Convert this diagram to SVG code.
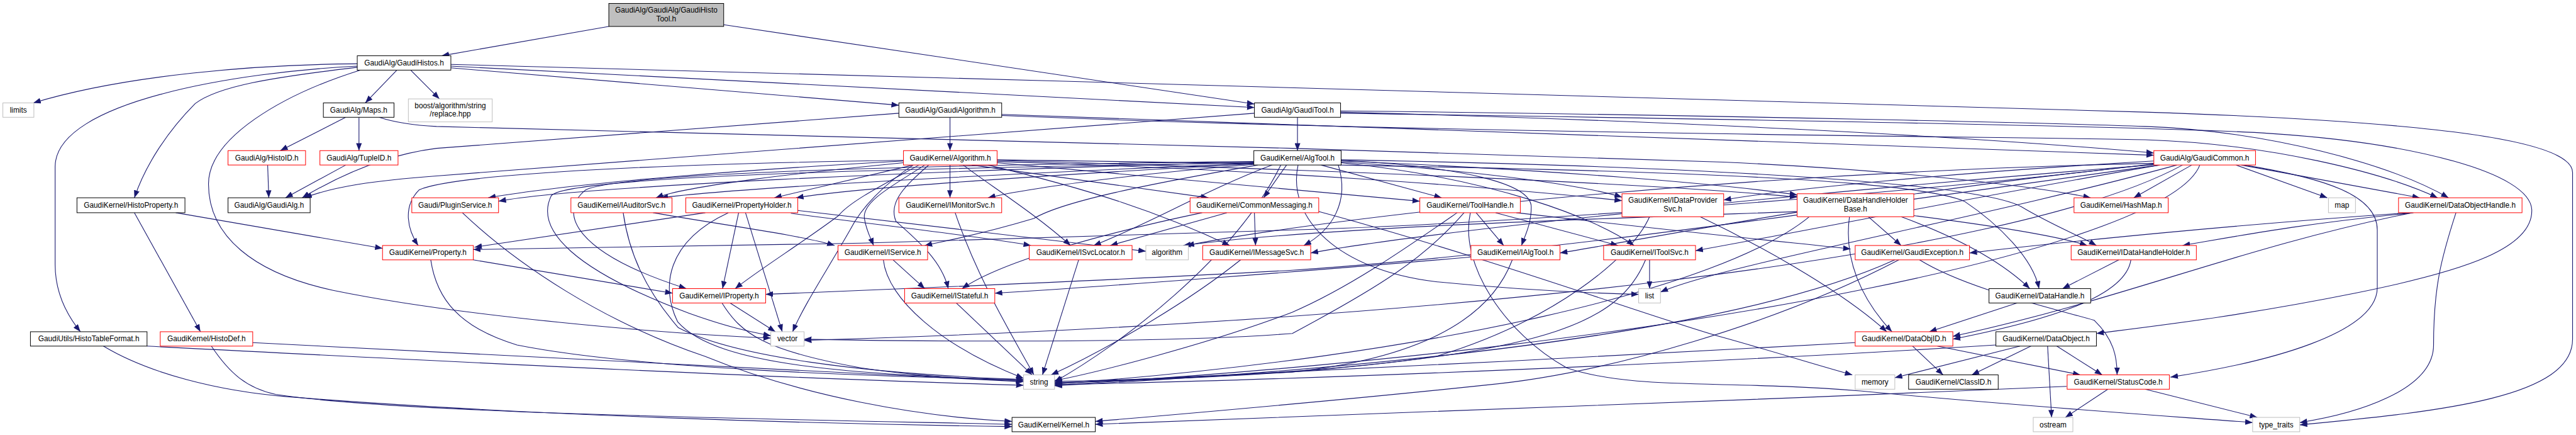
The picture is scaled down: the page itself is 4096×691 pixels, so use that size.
<svg xmlns="http://www.w3.org/2000/svg" width="4096" height="691" viewBox="0 0 4096 691">
<style>
.e{fill:none;stroke:#191970;stroke-width:1.2;marker-end:url(#a)}
.node rect{fill:#fff;stroke-width:1.1}
.r rect{stroke:#ff0000}
.b rect{stroke:#000}
.g rect{stroke:#bfbfbf}
.m rect{fill:#bfbfbf;stroke:#000}
text{font-family:"Liberation Sans",Arial,sans-serif;font-size:13px;text-anchor:middle;fill:#000}
</style>
<defs>
<marker id="a" markerUnits="userSpaceOnUse" markerWidth="13" markerHeight="10" refX="13" refY="5" orient="auto"><path d="M0,0L13,5L0,10z" fill="#191970"/></marker>
</defs>
<rect width="4096" height="691" fill="#fff"/>
<g transform="scale(0.91327)">
<g id="edges">
<path class="e" d="M1060,46 L769,97"/>
<path class="e" d="M1260,43 L2184,181"/>
<path class="e" d="M622,111 C450,112 220,130 58,179"/>
<path class="e" d="M622,115 C420,125 96,175 96,290 L96,460 C96,510 118,550 140,577"/>
<path class="e" d="M622,117 C470,135 380,150 340,180 C290,230 252,290 234,344"/>
<path class="e" d="M627,122 C490,165 363,240 363,320 C363,410 440,475 580,505 C800,550 1150,580 1342,588"/>
<path class="e" d="M691,122 L636,179"/>
<path class="e" d="M715,122 L765,172"/>
<path class="e" d="M785,112 C1800,140 3300,180 3735,195 C4250,212 4479,245 4479,300 L4479,590 C4479,690 4260,715 4004,739"/>
<path class="e" d="M785,115 L2184,187"/>
<path class="e" d="M785,118 L1565,183"/>
<path class="e" d="M602,204 L488,262"/>
<path class="e" d="M625,204 L625,262"/>
<path class="e" d="M660,204 C690,214 720,218 760,220 L2250,258 L3000,282 C3300,295 3550,325 3640,344"/>
<path class="e" d="M466,287 L468,344"/>
<path class="e" d="M602,287 L497,344"/>
<path class="e" d="M1565,197 L760,258 C680,268 600,300 526,344"/>
<path class="e" d="M1654,204 L1654,262"/>
<path class="e" d="M1744,199 C2300,222 3000,238 3750,270"/>
<path class="e" d="M1744,201 C2500,232 3500,238 3735,243 C3950,250 4150,300 4244,344"/>
<path class="e" d="M2184,197 L760,306 C650,314 580,325 530,344"/>
<path class="e" d="M2259,204 L2259,262"/>
<path class="e" d="M2334,195 C2900,210 3400,235 3750,266"/>
<path class="e" d="M2334,193 C3000,200 3600,215 3735,220 C3950,228 4160,285 4263,344"/>
<path class="e" d="M2334,197 C3200,210 3800,222 3950,232 C4200,248 4405,300 4408,365 C4410,430 4300,470 4100,510 C3900,550 3760,566 3650,580"/>
<path class="e" d="M306,370 L666,432"/>
<path class="e" d="M234,370 L349,577"/>
<path class="e" d="M440,596 L1782,664"/>
<path class="e" d="M368,602 C400,650 430,675 480,686 C700,720 1400,730 1762,738"/>
<path class="e" d="M256,602 C800,630 1400,660 1782,670"/>
<path class="e" d="M180,602 C260,650 380,680 500,690 C900,722 1400,737 1762,742"/>
<path class="e" d="M1573,280 C1300,295 1000,318 850,344"/>
<path class="e" d="M1573,283 C1400,300 1200,322 1142,344"/>
<path class="e" d="M1590,287 L1348,344"/>
<path class="e" d="M1654,287 L1654,344"/>
<path class="e" d="M1692,287 L2104,344"/>
<path class="e" d="M1736,283 L2472,350"/>
<path class="e" d="M1736,279 C2300,295 2900,320 3129,343"/>
<path class="e" d="M1573,279 C1200,284 800,300 730,330 C700,360 710,400 728,427"/>
<path class="e" d="M1600,287 C1540,320 1480,350 1460,375 C1400,420 1320,470 1280,502"/>
<path class="e" d="M1590,287 C1540,320 1500,360 1480,400 C1440,470 1400,530 1380,577"/>
<path class="e" d="M1610,287 C1560,320 1500,350 1505,380 C1508,400 1515,412 1521,427"/>
<path class="e" d="M1617,287 C1580,320 1545,350 1560,385 C1600,420 1640,455 1651,502"/>
<path class="e" d="M1677,287 C1720,320 1800,370 1864,427"/>
<path class="e" d="M1720,287 C1900,330 2020,370 2141,427"/>
<path class="e" d="M1736,281 C2200,295 2600,325 2824,349"/>
<path class="e" d="M1736,278 C2600,290 3300,300 3420,350 C3480,390 3540,450 3550,502"/>
<path class="e" d="M2183,282 C1600,297 1000,325 868,350"/>
<path class="e" d="M2183,284 C1800,300 1300,325 1150,344"/>
<path class="e" d="M2183,285 C1900,300 1500,325 1386,344"/>
<path class="e" d="M2183,286 C2000,300 1800,325 1720,344"/>
<path class="e" d="M2240,287 L2200,344"/>
<path class="e" d="M2300,287 L2510,344"/>
<path class="e" d="M2335,282 C2550,295 2750,320 2824,343"/>
<path class="e" d="M2335,280 C2700,295 3000,320 3129,339"/>
<path class="e" d="M2190,287 C2000,320 1850,350 1800,380 C1700,410 1640,420 1610,427"/>
<path class="e" d="M2215,287 C2100,330 2000,390 1904,427"/>
<path class="e" d="M2330,287 C2350,350 2320,400 2270,427"/>
<path class="e" d="M2335,279 C2550,290 2666,320 2666,360 C2666,390 2655,410 2649,427"/>
<path class="e" d="M2335,283 C2600,310 2780,380 2845,427"/>
<path class="e" d="M2260,287 C2240,380 2330,470 2500,490 C2650,505 2780,510 2853,512"/>
<path class="e" d="M2183,283 C1800,290 1000,300 960,340 C930,400 1000,470 1200,545 C1270,570 1310,578 1342,584"/>
<path class="e" d="M2230,287 C2150,450 1950,600 1836,664"/>
<path class="e" d="M2183,281 C1800,285 1100,295 1020,330 C970,370 1000,440 1195,502"/>
<path class="e" d="M2335,278 C3000,290 3450,320 3520,360 C3570,390 3620,410 3650,427"/>
<path class="e" d="M3816,287 L3715,344"/>
<path class="e" d="M3893,287 L4052,344"/>
<path class="e" d="M3902,287 L4213,344"/>
<path class="e" d="M3750,280 C3400,300 3100,330 3001,348"/>
<path class="e" d="M3907,287 C4050,310 4139,340 4139,400 L4139,500 C4139,580 3950,630 3779,656"/>
<path class="e" d="M3830,287 C3780,420 3000,600 1836,670"/>
<path class="e" d="M3800,287 C3500,450 2500,560 1400,592"/>
<path class="e" d="M3750,284 C3000,300 2300,380 2066,427"/>
<path class="e" d="M3760,287 C3450,340 3100,410 2952,436"/>
<path class="e" d="M3755,286 C3200,330 2500,400 2282,440"/>
<path class="e" d="M3760,285 C3300,330 2900,410 2716,440"/>
<path class="e" d="M3750,285 C3300,340 2600,390 2250,400 L1500,423 L824,434"/>
<path class="e" d="M3790,287 C3450,380 3000,460 2891,508"/>
<path class="e" d="M3760,287 C3300,350 2700,440 2250,470 C1900,490 1500,505 1333,512"/>
<path class="e" d="M2561,447 C2300,470 1900,500 1732,510"/>
<path class="e" d="M805,370 C900,460 1050,560 1228,620 C1400,690 1600,725 1762,733"/>
<path class="e" d="M1085,370 C1095,440 1123,503 1181,570 C1276,620 1500,650 1782,660"/>
<path class="e" d="M1137,370 C1250,390 1400,410 1453,427"/>
<path class="e" d="M1228,370 L826,430"/>
<path class="e" d="M1268,370 C1160,420 1150,500 1180,560 C1250,640 1500,650 1782,662"/>
<path class="e" d="M1286,370 L1258,502"/>
<path class="e" d="M1298,370 L1362,577"/>
<path class="e" d="M1389,366 L1995,437"/>
<path class="e" d="M1377,371 C1500,388 1700,410 1795,427"/>
<path class="e" d="M1663,370 C1700,480 1760,580 1800,652"/>
<path class="e" d="M2184,370 L2186,427"/>
<path class="e" d="M2136,370 L1933,427"/>
<path class="e" d="M2296,368 C2600,450 2900,560 3000,587 C3100,615 3180,640 3225,652"/>
<path class="e" d="M2093,370 C1950,400 1750,450 1675,502"/>
<path class="e" d="M2570,370 L2618,427"/>
<path class="e" d="M2604,370 L2817,427"/>
<path class="e" d="M2537,370 C2450,430 2350,500 2250,543 C2100,600 1900,650 1836,662"/>
<path class="e" d="M2549,370 C2480,450 2400,500 2250,580 C2000,600 1500,592 1400,590"/>
<path class="e" d="M2640,370 C2900,400 3100,420 3222,433"/>
<path class="e" d="M2560,370 C2540,460 2620,580 2728,640 C2850,680 3000,660 3239,680 C3500,705 3750,722 3922,735"/>
<path class="e" d="M2872,377 C2840,450 2700,560 2500,620 C2300,650 2000,660 1836,666"/>
<path class="e" d="M2960,377 C3050,420 3200,500 3285,577"/>
<path class="e" d="M3220,377 C3210,450 3240,520 3294,577"/>
<path class="e" d="M3253,377 L3310,427"/>
<path class="e" d="M3310,377 C3400,410 3480,450 3534,502"/>
<path class="e" d="M3332,375 C3450,390 3580,410 3634,427"/>
<path class="e" d="M3129,368 C2800,380 2300,395 2060,427"/>
<path class="e" d="M3150,377 C3000,500 2500,620 1836,668"/>
<path class="e" d="M4202,370 C4000,390 3900,410 3800,427"/>
<path class="e" d="M4195,370 C3900,390 3600,420 3429,440"/>
<path class="e" d="M4200,370 C3900,430 3700,520 3400,585"/>
<path class="e" d="M4276,370 C4250,450 4237,500 4237,600 C4237,680 4100,720 4004,735"/>
<path class="e" d="M3689,452 L3591,502"/>
<path class="e" d="M3710,452 C3700,520 3550,560 3400,590"/>
<path class="e" d="M3342,452 C3420,500 3550,530 3646,557 C3680,590 3686,620 3686,652"/>
<path class="e" d="M3299,452 C3150,520 2800,620 1836,671"/>
<path class="e" d="M3306,452 C3100,560 2800,650 2585,670 C2300,700 2000,725 1907,733"/>
<path class="e" d="M2872,452 L2872,502"/>
<path class="e" d="M2865,452 C2820,560 2700,610 2250,647 C2050,660 1900,665 1836,665"/>
<path class="e" d="M2633,452 C2600,540 2500,620 2250,647 C2000,660 1900,663 1836,663"/>
<path class="e" d="M2160,452 C2050,540 1900,620 1830,652"/>
<path class="e" d="M1878,452 L1815,652"/>
<path class="e" d="M1555,452 L1610,502"/>
<path class="e" d="M1538,452 C1545,520 1640,603 1782,658"/>
<path class="e" d="M1665,527 L1797,652"/>
<path class="e" d="M1271,527 L1350,577"/>
<path class="e" d="M1257,527 C1290,580 1330,610 1500,640 C1600,655 1700,660 1782,662"/>
<path class="e" d="M824,452 L1171,510"/>
<path class="e" d="M750,452 C760,520 800,570 900,600 C1100,640 1500,655 1782,660"/>
<path class="e" d="M3512,527 L3359,577"/>
<path class="e" d="M3330,602 L3383,652"/>
<path class="e" d="M3373,602 L3622,652"/>
<path class="e" d="M3230,596 C2800,620 2200,650 1836,667"/>
<path class="e" d="M3517,602 L3299,657"/>
<path class="e" d="M3536,602 L3433,652"/>
<path class="e" d="M3581,602 L3660,652"/>
<path class="e" d="M3565,602 L3572,726"/>
<path class="e" d="M3475,600 C3000,630 2300,660 1836,669"/>
<path class="e" d="M3670,677 L3596,726"/>
<path class="e" d="M3735,677 L3930,726"/>
<path class="e" d="M3598,672 C3000,698 2300,725 1907,738"/>
</g>
<g id="n0" class="node m"><rect x="1060" y="6" width="200" height="40"/><text x="1160" y="22">GaudiAlg/GaudiAlg/GaudiHisto</text><text x="1160" y="37">Tool.h</text></g>
<g id="n1" class="node b"><rect x="622" y="97" width="163" height="25"/><text x="703.5" y="114">GaudiAlg/GaudiHistos.h</text></g>
<g id="n2" class="node g"><rect x="5" y="179" width="54" height="25"/><text x="32" y="196">limits</text></g>
<g id="n3" class="node b"><rect x="563" y="179" width="123" height="25"/><text x="624.5" y="196">GaudiAlg/Maps.h</text></g>
<g id="n4" class="node g"><rect x="711" y="172" width="146" height="40"/><text x="784" y="188">boost/algorithm/string</text><text x="784" y="203">/replace.hpp</text></g>
<g id="n5" class="node b"><rect x="1565" y="179" width="179" height="25"/><text x="1654.5" y="196">GaudiAlg/GaudiAlgorithm.h</text></g>
<g id="n6" class="node b"><rect x="2184" y="179" width="150" height="25"/><text x="2259" y="196">GaudiAlg/GaudiTool.h</text></g>
<g id="n7" class="node r"><rect x="1573" y="262" width="163" height="25"/><text x="1654.5" y="279">GaudiKernel/Algorithm.h</text></g>
<g id="n8" class="node b"><rect x="2183" y="262" width="152" height="25"/><text x="2259" y="279">GaudiKernel/AlgTool.h</text></g>
<g id="n9" class="node r"><rect x="3750" y="262" width="177" height="25"/><text x="3838.5" y="279">GaudiAlg/GaudiCommon.h</text></g>
<g id="n10" class="node r"><rect x="397" y="262" width="135" height="25"/><text x="464.5" y="279">GaudiAlg/HistoID.h</text></g>
<g id="n11" class="node r"><rect x="557" y="262" width="136" height="25"/><text x="625" y="279">GaudiAlg/TupleID.h</text></g>
<g id="n12" class="node b"><rect x="134" y="344" width="188" height="26"/><text x="228" y="361.5">GaudiKernel/HistoProperty.h</text></g>
<g id="n13" class="node b"><rect x="397" y="344" width="143" height="26"/><text x="468.5" y="361.5">GaudiAlg/GaudiAlg.h</text></g>
<g id="n14" class="node r"><rect x="717" y="344" width="151" height="26"/><text x="792.5" y="361.5">Gaudi/PluginService.h</text></g>
<g id="n15" class="node r"><rect x="994" y="344" width="176" height="26"/><text x="1082" y="361.5">GaudiKernel/IAuditorSvc.h</text></g>
<g id="n16" class="node r"><rect x="1194" y="344" width="195" height="26"/><text x="1291.5" y="361.5">GaudiKernel/PropertyHolder.h</text></g>
<g id="n17" class="node r"><rect x="1565" y="344" width="179" height="26"/><text x="1654.5" y="361.5">GaudiKernel/IMonitorSvc.h</text></g>
<g id="n18" class="node r"><rect x="2072" y="344" width="224" height="26"/><text x="2184" y="361.5">GaudiKernel/CommonMessaging.h</text></g>
<g id="n19" class="node r"><rect x="2472" y="344" width="175" height="26"/><text x="2559.5" y="361.5">GaudiKernel/ToolHandle.h</text></g>
<g id="n20" class="node r"><rect x="2824" y="337" width="177" height="40"/><text x="2912.5" y="353">GaudiKernel/IDataProvider</text><text x="2912.5" y="368">Svc.h</text></g>
<g id="n21" class="node r"><rect x="3129" y="337" width="203" height="40"/><text x="3230.5" y="353">GaudiKernel/DataHandleHolder</text><text x="3230.5" y="368">Base.h</text></g>
<g id="n22" class="node r"><rect x="3611" y="344" width="164" height="26"/><text x="3693" y="361.5">GaudiKernel/HashMap.h</text></g>
<g id="n23" class="node g"><rect x="4054" y="344" width="47" height="26"/><text x="4077.5" y="361.5">map</text></g>
<g id="n24" class="node r"><rect x="4176" y="344" width="215" height="26"/><text x="4283.5" y="361.5">GaudiKernel/DataObjectHandle.h</text></g>
<g id="n25" class="node r"><rect x="666" y="427" width="158" height="25"/><text x="745" y="444">GaudiKernel/Property.h</text></g>
<g id="n26" class="node r"><rect x="1459" y="427" width="156" height="25"/><text x="1537" y="444">GaudiKernel/IService.h</text></g>
<g id="n27" class="node r"><rect x="1792" y="427" width="179" height="25"/><text x="1881.5" y="444">GaudiKernel/ISvcLocator.h</text></g>
<g id="n28" class="node g"><rect x="1995" y="427" width="74" height="25"/><text x="2032" y="444">algorithm</text></g>
<g id="n29" class="node r"><rect x="2094" y="427" width="188" height="25"/><text x="2188" y="444">GaudiKernel/IMessageSvc.h</text></g>
<g id="n30" class="node r"><rect x="2561" y="427" width="155" height="25"/><text x="2638.5" y="444">GaudiKernel/IAlgTool.h</text></g>
<g id="n31" class="node r"><rect x="2792" y="427" width="160" height="25"/><text x="2872" y="444">GaudiKernel/IToolSvc.h</text></g>
<g id="n32" class="node r"><rect x="3230" y="427" width="199" height="25"/><text x="3329.5" y="444">GaudiKernel/GaudiException.h</text></g>
<g id="n33" class="node r"><rect x="3606" y="427" width="218" height="25"/><text x="3715" y="444">GaudiKernel/IDataHandleHolder.h</text></g>
<g id="n34" class="node r"><rect x="1171" y="502" width="162" height="25"/><text x="1252" y="519">GaudiKernel/IProperty.h</text></g>
<g id="n35" class="node r"><rect x="1575" y="502" width="157" height="25"/><text x="1653.5" y="519">GaudiKernel/IStateful.h</text></g>
<g id="n36" class="node g"><rect x="2853" y="502" width="38" height="25"/><text x="2872" y="519">list</text></g>
<g id="n37" class="node b"><rect x="3463" y="502" width="177" height="25"/><text x="3551.5" y="519">GaudiKernel/DataHandle.h</text></g>
<g id="n38" class="node b"><rect x="53" y="577" width="203" height="25"/><text x="154.5" y="594">GaudiUtils/HistoTableFormat.h</text></g>
<g id="n39" class="node r"><rect x="279" y="577" width="161" height="25"/><text x="359.5" y="594">GaudiKernel/HistoDef.h</text></g>
<g id="n40" class="node g"><rect x="1342" y="577" width="58" height="25"/><text x="1371" y="594">vector</text></g>
<g id="n41" class="node r"><rect x="3230" y="577" width="170" height="25"/><text x="3315" y="594">GaudiKernel/DataObjID.h</text></g>
<g id="n42" class="node b"><rect x="3475" y="577" width="175" height="25"/><text x="3562.5" y="594">GaudiKernel/DataObject.h</text></g>
<g id="n43" class="node g"><rect x="1782" y="652" width="54" height="25"/><text x="1809" y="669">string</text></g>
<g id="n44" class="node g"><rect x="3230" y="652" width="69" height="25"/><text x="3264.5" y="669">memory</text></g>
<g id="n45" class="node b"><rect x="3323" y="652" width="156" height="25"/><text x="3401" y="669">GaudiKernel/ClassID.h</text></g>
<g id="n46" class="node r"><rect x="3599" y="652" width="178" height="25"/><text x="3688" y="669">GaudiKernel/StatusCode.h</text></g>
<g id="n47" class="node b"><rect x="1762" y="726" width="145" height="25"/><text x="1834.5" y="743">GaudiKernel/Kernel.h</text></g>
<g id="n48" class="node g"><rect x="3540" y="726" width="69" height="25"/><text x="3574.5" y="743">ostream</text></g>
<g id="n49" class="node g"><rect x="3922" y="726" width="82" height="25"/><text x="3963" y="743">type_traits</text></g>
</g>
</svg>
